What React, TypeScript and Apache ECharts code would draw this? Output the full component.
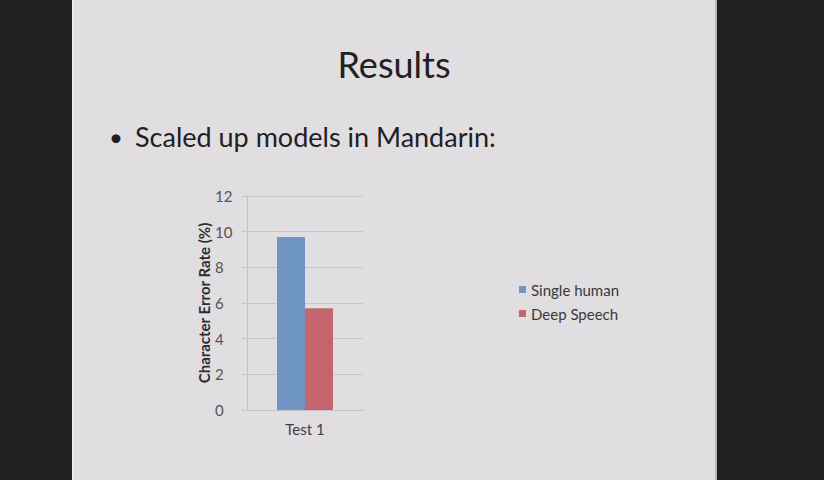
import React, { useEffect, useRef } from "react";
import * as echarts from "echarts";

const categories = ["Test 1"];
const seriesNames = ["Single human", "Deep Speech"];
const singleHuman = [9.7];
const deepSpeech = [5.7];
const yTicks = { min: 0, max: 12, interval: 2 };

const FONT = "Lato, 'Open Sans', sans-serif";

export default function App() {
  const ref = useRef<HTMLDivElement>(null);

  useEffect(() => {
    if (!ref.current) return;
    const chart = echarts.init(ref.current, undefined, { renderer: "svg" });
    chart.setOption({
      animation: false,
      backgroundColor: "#221f23",
      graphic: [
        {
          type: "rect",
          z: -10,
          shape: { x: 72, y: 0, width: 645, height: 480 },
          style: { fill: "#e1dee1" },
        },
        {
          type: "rect",
          z: -9,
          shape: { x: 72, y: 0, width: 2, height: 480 },
          style: { fill: "#ebe9eb" },
        },
        {
          type: "rect",
          z: -9,
          shape: { x: 715, y: 0, width: 2, height: 480 },
          style: { fill: "#b9b6b9" },
        },
        {
          type: "text",
          x: 394,
          y: 64,
          style: {
            text: "Results",
            font: `36px ${FONT}`,
            fill: "#222022",
            align: "center",
            verticalAlign: "middle",
          },
        },
        {
          type: "text",
          x: 116,
          y: 136,
          style: {
            text: "•",
            font: `24px ${FONT}`,
            fill: "#222022",
            align: "center",
            verticalAlign: "middle",
          },
        },
        {
          type: "text",
          x: 135,
          y: 136,
          style: {
            text: "Scaled up models in Mandarin:",
            font: `27px ${FONT}`,
            fill: "#222022",
            align: "left",
            verticalAlign: "middle",
          },
        },
      ],
      legend: {
        orient: "vertical",
        left: 514,
        top: 277,
        icon: "rect",
        itemWidth: 7,
        itemHeight: 7,
        itemGap: 9,
        textStyle: { fontFamily: FONT, fontSize: 15, color: "#3a383a" },
        data: seriesNames,
      },
      grid: { left: 247, top: 196, width: 116, height: 214, containLabel: false },
      xAxis: {
        type: "category",
        data: categories,
        axisLine: { show: true, lineStyle: { color: "#c4c1c4" } },
        axisTick: { show: false },
        axisLabel: {
          margin: 11,
          fontFamily: FONT,
          fontSize: 15,
          color: "#3f3d3f",
        },
      },
      yAxis: {
        type: "value",
        min: yTicks.min,
        max: yTicks.max,
        interval: yTicks.interval,
        name: "Character Error Rate (%)",
        nameLocation: "middle",
        nameRotate: 90,
        nameGap: 36,
        nameTextStyle: {
          fontFamily: FONT,
          fontSize: 15,
          fontWeight: "bold",
          color: "#2e2c2e",
        },
        axisLine: { show: true, lineStyle: { color: "#c4c1c4" } },
        axisTick: { show: true, length: 5, lineStyle: { color: "#c4c1c4" } },
        axisLabel: {
          margin: 32,
          align: "left",
          fontFamily: FONT,
          fontSize: 15,
          color: "#555355",
        },
        splitLine: { show: true, lineStyle: { color: "#c8c5c8" } },
      },
      series: [
        {
          name: seriesNames[0],
          type: "bar",
          data: singleHuman,
          barWidth: 28,
          barGap: "0%",
          itemStyle: { color: "#7097c3" },
        },
        {
          name: seriesNames[1],
          type: "bar",
          data: deepSpeech,
          barWidth: 28,
          barGap: "0%",
          itemStyle: { color: "#c4646c" },
        },
      ],
    });
    return () => chart.dispose();
  }, []);

  return (
    <div
      ref={ref}
      style={{ position: "absolute", left: 0, top: 0, width: 824, height: 480 }}
    />
  );
}
